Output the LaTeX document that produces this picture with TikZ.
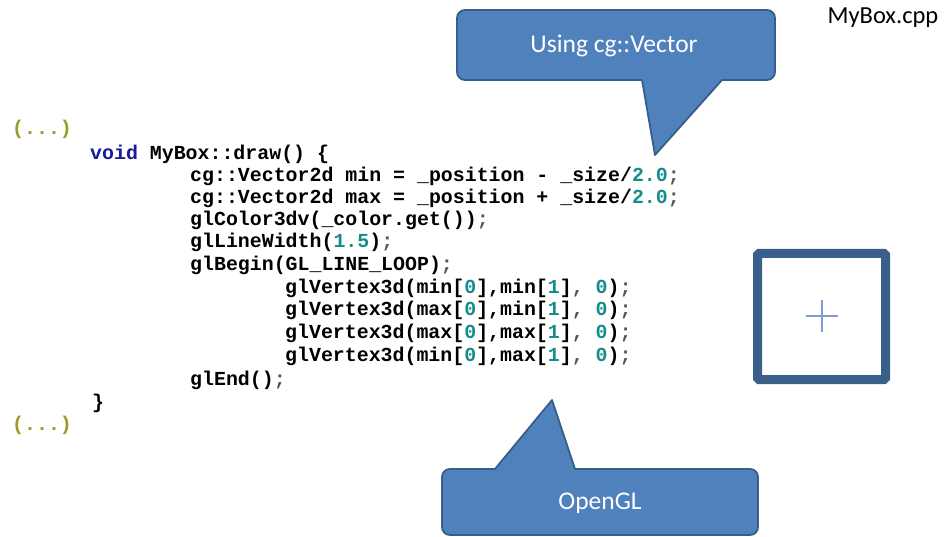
\documentclass[tikz,border=0pt]{standalone}
\usepackage{fontspec}
\setmonofont{Liberation Mono}
\setsansfont{Carlito}
\definecolor{kw}{HTML}{1A1A9C}
\definecolor{numc}{HTML}{168C8C}
\definecolor{dots}{HTML}{9A9A2A}
\definecolor{punc}{HTML}{555555}
\definecolor{calfill}{HTML}{4F81BD}
\definecolor{caledge}{HTML}{385D8A}
\definecolor{frame}{HTML}{3A5F8B}
\definecolor{crossc}{HTML}{7B9FD2}
\newcommand\kwd[1]{\textcolor{kw}{#1}}
\newcommand\nm[1]{\textcolor{numc}{#1}}
\newcommand\semi{\textcolor{punc}{;}}
\newcommand\comma{\textcolor{punc}{,}}
\begin{document}
\begin{tikzpicture}[x=1pt,y=-1pt,
  code/.style={anchor=base west,inner sep=0pt,font=\ttfamily\bfseries\fontsize{19.9}{22}\selectfont},
  callout/.style={fill=calfill,draw=caledge,line width=1.8pt,line join=round},
  caltext/.style={text=white,font=\sffamily\fontsize{25.5}{28}\selectfont,inner sep=0pt}]
\useasboundingbox (0,0) rectangle (945,537);

% file name
\node[inner sep=0pt,font=\sffamily\fontsize{24.5}{27}\selectfont] (file) at (883,18) {MyBox.cpp};

% source listing
\node[code,text=dots] (l0) at (12,135) {(...)};
\node[code] (l1) at (90,160) {\kwd{void} MyBox::draw() \{};
\node[code] (l2) at (190,182) {cg::Vector2d min = \_position - \_size/\nm{2.0}\semi};
\node[code] (l3) at (190,204) {cg::Vector2d max = \_position + \_size/\nm{2.0}\semi};
\node[code] (l4) at (190,226) {glColor3dv(\_color.get())\semi};
\node[code] (l5) at (190,248) {glLineWidth(\nm{1.5})\semi};
\node[code] (l6) at (190,271) {glBegin(GL\_LINE\_LOOP)\semi};
\node[code] (l7) at (285,294) {glVertex3d(min[\nm{0}],min[\nm{1}]\comma{} \nm{0})\semi};
\node[code] (l8) at (285,316) {glVertex3d(max[\nm{0}],min[\nm{1}]\comma{} \nm{0})\semi};
\node[code] (l9) at (285,338) {glVertex3d(max[\nm{0}],max[\nm{1}]\comma{} \nm{0})\semi};
\node[code] (l10) at (285,361) {glVertex3d(min[\nm{0}],max[\nm{1}]\comma{} \nm{0})\semi};
\node[code] (l11) at (190,385) {glEnd()\semi};
\node[code] (l12) at (92,408) {\}};
\node[code,text=dots] (l13) at (12,430) {(...)};

% callout: cg::Vector
\draw[callout] (600,10) [rounded corners=8] -- (775,10) -- (775,80) [sharp corners] -- (722,80)
  -- (655,155) -- (642,80) [rounded corners=8] -- (457,80) -- (457,10) -- cycle;
\node[caltext] (vec) at (614,46) {Using cg::Vector};

% callout: OpenGL
\draw[callout] (600,535) [rounded corners=8] -- (442,535) -- (442,469) [sharp corners] -- (495,469)
  -- (552,400) -- (575,469) [rounded corners=8] -- (758,469) -- (758,535) -- cycle;
\node[caltext] (gl) at (600,503) {OpenGL};

% rendered box with centre mark
\draw[frame,line width=9pt,rounded corners=1.5pt] (757.5,253.5) rectangle (885.5,379.5);
\coordinate (ctr) at (822,316);
\draw[crossc,line width=1.4pt] ([xshift=-16pt]ctr) -- ([xshift=16pt]ctr)
  ([yshift=-16pt]ctr) -- ([yshift=16pt]ctr);
\end{tikzpicture}
\end{document}
